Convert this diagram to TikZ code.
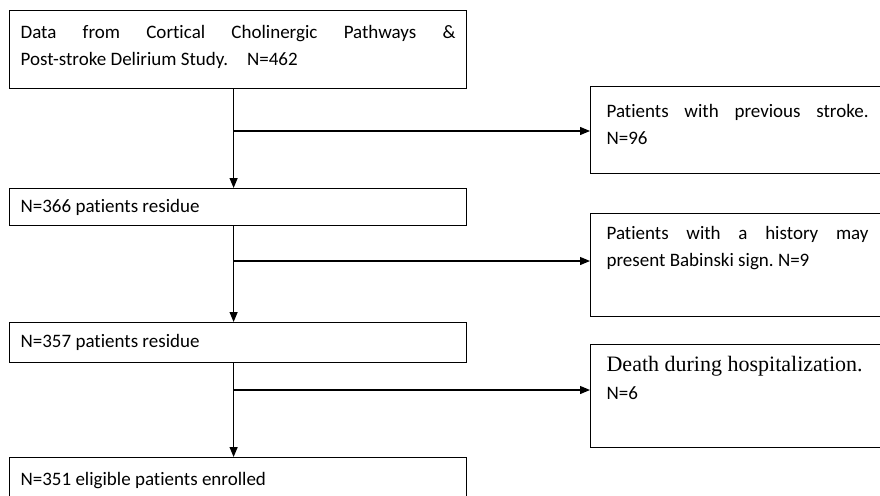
\documentclass[tikz,border=0pt]{standalone}
\usepackage{fontspec}
\setmainfont[Ligatures=NoCommon]{Carlito}
\newfontfamily\tnr{Liberation Serif}
\usetikzlibrary{arrows.meta}
\newcommand\bxt[4]{\parbox[c][#1][t]{#2}{\frenchspacing\vspace*{#3}#4}}
\begin{document}
\begin{tikzpicture}[x=1pt,y=-1pt,
  box/.style={draw, line width=1.2pt, anchor=north west, inner xsep=11pt, inner ysep=0pt,
    font=\fontsize{19}{27}\selectfont},
  rbox/.style={box, inner xsep=16pt},
  conn/.style={line width=1.2pt},
  arr/.style={conn, -{Triangle[length=10pt,width=8pt]}}]
\useasboundingbox (0,0) rectangle (880,495);
\clip (0,0) rectangle (880,495);
\fill[white] (0,0) rectangle (880,495);

\node[box] (b1) at (9,10) {\bxt{78pt}{435pt}{14.5pt}{Data from Cortical Cholinergic Pathways \&\linebreak Post-stroke Delirium Study.\quad N=462}};
\node[box] (b2) at (9,188) {\bxt{37pt}{435pt}{11pt}{N=366 patients residue}};
\node[box] (b3) at (9,322) {\bxt{40pt}{435pt}{12pt}{N=357 patients residue}};
\node[box] (b4) at (9,457) {\bxt{60pt}{435pt}{15pt}{N=351 eligible patients enrolled}};

\node[rbox] (r1) at (590,86) {\bxt{87pt}{262pt}{18pt}{Patients with previous stroke.\linebreak N=96}};
\node[rbox] (r2) at (590,213) {\bxt{103pt}{262pt}{13pt}{Patients with a history may\linebreak present Babinski sign. N=9}};
\node[rbox] (r3) at (590,344) {\bxt{103pt}{262pt}{11.5pt}{{\tnr\fontsize{22}{27}\selectfont Death during hospitalization.}\\[1pt] N=6}};

\coordinate (j1) at (233,131);
\coordinate (j2) at (233,261);
\coordinate (j3) at (233,390);

\draw[arr] ([xshift=-4.5pt]b1.south) -- ([xshift=-4.5pt]b2.north);
\draw[arr] ([xshift=-4.5pt]b2.south) -- ([xshift=-4.5pt]b3.north);
\draw[arr] ([xshift=-4.5pt]b3.south) -- ([xshift=-4.5pt]b4.north);
\draw[arr] (j1) -- (j1 -| r1.west);
\draw[arr] (j2) -- (j2 -| r2.west);
\draw[arr] (j3) -- (j3 -| r3.west);
\end{tikzpicture}
\end{document}
